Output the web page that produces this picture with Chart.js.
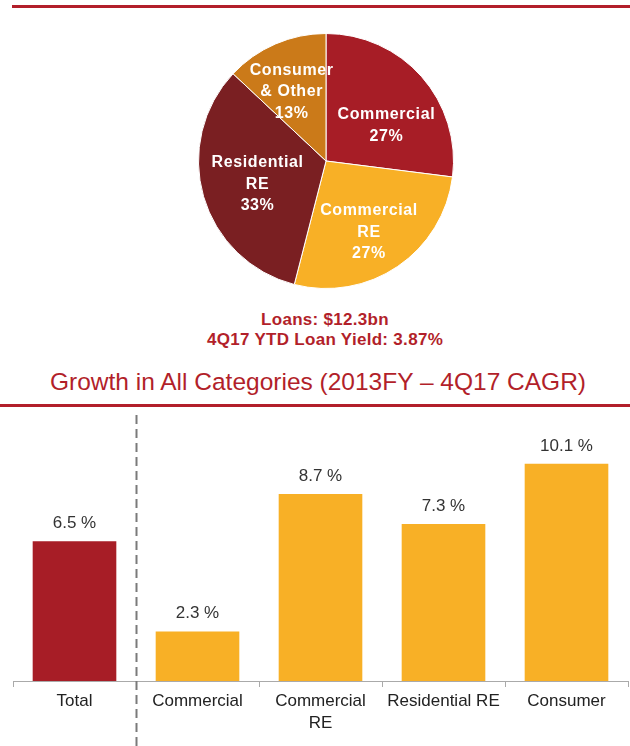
<!DOCTYPE html>
<html>
<head>
<meta charset="utf-8">
<script src="https://cdn.jsdelivr.net/npm/chart.js@4.4.1/dist/chart.umd.min.js"></script>
<style>
  body { margin: 0; background: #fff; width: 630px; height: 746px; position: relative; overflow: hidden;
         font-family: "Liberation Sans", Arial, sans-serif; }
  .rule { position: absolute; background: #b21f2a; height: 3px; }
  .txt { position: absolute; left: 0; width: 650px; text-align: center; color: #b21f2a; white-space: nowrap; }
  #pie { position: absolute; left: 198px; top: 33px; }
  #bars { position: absolute; left: 0; top: 410px; }
</style>
</head>
<body>
<div class="rule" style="left:12px; top:5px; width:618px;"></div>
<canvas id="pie" width="256" height="256"></canvas>
<div class="txt" style="top:310px; font-weight:bold; font-size:17px; letter-spacing:0.3px;">Loans: $12.3bn</div>
<div class="txt" style="top:330px; font-weight:bold; font-size:17px; letter-spacing:0.3px;">4Q17 YTD Loan Yield: 3.87%</div>
<div class="txt" style="top:368px; width:636px; font-size:24.5px;">Growth in All Categories (2013FY &ndash; 4Q17 CAGR)</div>
<div class="rule" style="left:0; top:404px; width:630px;"></div>
<canvas id="bars" width="630" height="336"></canvas>
<script>
// loan mix (pie)
const mixLabels = [['Commercial', '27%'], ['Commercial', 'RE', '27%'], ['Residential', 'RE', '33%'], ['Consumer', '& Other', '13%']];
const mixValues = [27, 27, 33, 13];
const mixColors = ['#a71d26', '#f8b026', '#7a1f22', '#cb7a19'];

// growth (bars)
const growthLabels = ['Total', 'Commercial', ['Commercial', 'RE'], 'Residential RE', 'Consumer'];
const growthValues = [6.5, 2.3, 8.7, 7.3, 10.1];
const growthColors = ['#a71d26', '#f8b026', '#f8b026', '#f8b026', '#f8b026'];

const font = '"Liberation Sans", Arial, sans-serif';
// small hand nudges so the slice labels sit where the original puts them
const labelNudge = [[3, 15], [0, 8], [5, 2], [-4, 1]];

new Chart(document.getElementById('pie'), {
  type: 'pie',
  data: {
    labels: mixLabels.map(l => l.join(' ')),
    datasets: [{ data: mixValues, backgroundColor: mixColors, borderColor: '#fff', borderWidth: 1 }]
  },
  options: {
    responsive: false,
    animation: false,
    layout: { padding: 0 },
    plugins: { legend: { display: false }, tooltip: { enabled: false } }
  },
  plugins: [{
    afterDatasetsDraw(chart) {
      const ctx = chart.ctx;
      ctx.save();
      ctx.fillStyle = '#fff';
      ctx.font = 'bold 16px ' + font;
      ctx.letterSpacing = '0.6px';
      ctx.textAlign = 'center';
      ctx.textBaseline = 'middle';
      chart.getDatasetMeta(0).data.forEach((arc, i) => {
        const mid = (arc.startAngle + arc.endAngle) / 2;
        const r = arc.outerRadius * 0.6;
        const x = arc.x + Math.cos(mid) * r + labelNudge[i][0];
        const y = arc.y + Math.sin(mid) * r + labelNudge[i][1];
        const lines = mixLabels[i];
        lines.forEach((t, k) => {
          ctx.fillText(t, x, y + (k - (lines.length - 1) / 2) * 21.5);
        });
      });
      ctx.restore();
    }
  }]
});

new Chart(document.getElementById('bars'), {
  type: 'bar',
  data: {
    labels: growthLabels,
    datasets: [{ data: growthValues, backgroundColor: growthColors, barPercentage: 0.68, categoryPercentage: 1 }]
  },
  options: {
    responsive: false,
    animation: false,
    layout: { padding: { left: 13, right: 2, top: 13, bottom: 0 } },
    plugins: { legend: { display: false }, tooltip: { enabled: false } },
    scales: {
      y: { display: false, min: 0, max: 12 },
      x: {
        afterFit: s => { s.height = 65; },
        border: { display: true, color: '#aaa', width: 1 },
        grid: { offset: true, drawOnChartArea: false, drawTicks: true, tickLength: 6, color: '#aaa' },
        ticks: { color: '#222', font: { family: font, size: 17, lineHeight: 1.3 }, padding: 3, maxRotation: 0, autoSkip: false }
      }
    }
  },
  plugins: [{
    afterDraw(chart) {
      const ctx = chart.ctx;
      const xs = chart.scales.x;
      ctx.save();
      // value labels
      ctx.fillStyle = '#333';
      ctx.font = '17px ' + font;
      ctx.textAlign = 'center';
      ctx.textBaseline = 'middle';
      chart.getDatasetMeta(0).data.forEach((bar, i) => {
        ctx.fillText(growthValues[i].toFixed(1) + ' %', bar.x, bar.y - 18);
      });
      // dashed divider between Total and the rest
      const dx = Math.round((xs.getPixelForValue(0) + xs.getPixelForValue(1)) / 2) + 0.5;
      ctx.strokeStyle = '#7a7a7a';
      ctx.lineWidth = 2;
      ctx.setLineDash([9, 5]);
      ctx.beginPath();
      ctx.moveTo(dx, 5);
      ctx.lineTo(dx, chart.height);
      ctx.stroke();
      ctx.restore();
    }
  }]
});
</script>
</body>
</html>
